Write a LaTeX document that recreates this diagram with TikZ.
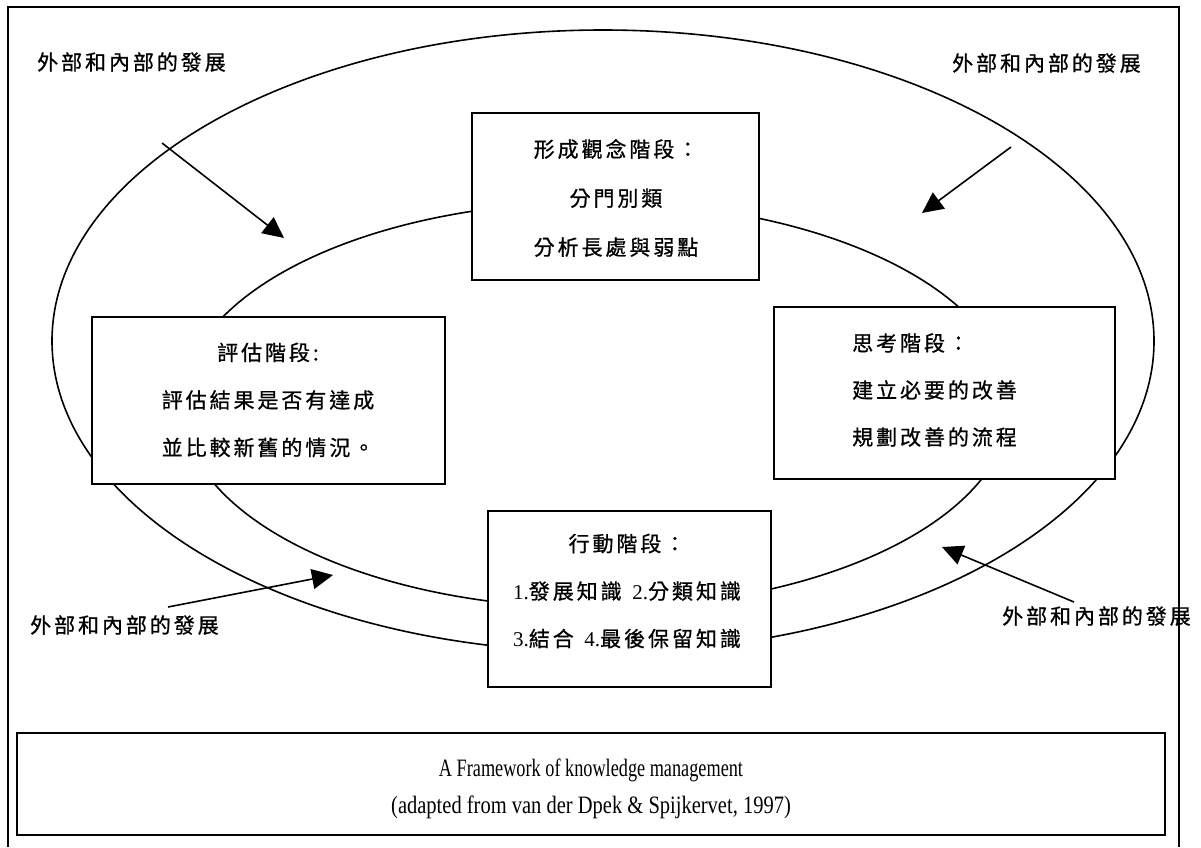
\documentclass[tikz,border=0pt]{standalone}
\usepackage{fontspec}
\usepackage{graphicx}
\setmainfont{Liberation Serif}
\newfontfamily\cjk[LetterSpace=14,FakeBold=0.8]{Noto Sans CJK TC}
\usetikzlibrary{arrows.meta}

\begin{document}
\begin{tikzpicture}[x=1pt,y=-1pt,
  frameline/.style={line width=1.8pt},
  ring/.style={line width=1.6pt},
  stagebox/.style={draw, fill=white, line width=1.9pt, inner sep=0pt, outer sep=0pt},
  stagetext/.style={inner sep=0pt, align=center, font=\cjk\fontsize{21}{47.5}\selectfont},
  flowlabel/.style={inner sep=0pt, anchor=west, font=\cjk\fontsize{21}{24}\selectfont},
  inflow/.style={line width=1.6pt, -{Triangle[length=21pt,width=20pt]}},
]
\useasboundingbox (0,0) rectangle (1201,847);

% outer frame, open at the bottom
\draw[frameline] (8,847) -- (8,7) -- (1179,7) -- (1179,847);

% the two development rings
\draw[ring] (603,341) ellipse [x radius=551pt, y radius=311pt];
\draw[ring] (596,405) ellipse [x radius=414pt, y radius=203pt];

% stage boxes
\node[stagebox, minimum width=287pt, minimum height=167pt] (concept) at (615.5,196.5) {};
\node[stagebox, minimum width=353pt, minimum height=167pt] (evaluate) at (268.5,400.5) {};
\node[stagebox, minimum width=341pt, minimum height=172pt] (think) at (944.5,393) {};
\node[stagebox, minimum width=283pt, minimum height=176pt] (act) at (629.5,599) {};

% stage texts
\node[stagetext, font=\cjk\fontsize{21}{49}\selectfont] (conceptText) at (616,198)
  {形成觀念階段：\\分門別類\\分析長處與弱點};
\node[stagetext] (evaluateText) at (268,400)
  {評估階段:\\評估結果是否有達成\\並比較新舊的情況。};
\node[stagetext, align=left, anchor=west, font=\cjk\fontsize{21}{47}\selectfont] (thinkText) at (852,390)
  {思考階段：\\建立必要的改善\\規劃改善的流程};
\node[stagetext] (actText) at (627,591)
  {行動階段：\\{\rmfamily 1.}發展知識\hspace{3pt} {\rmfamily 2.}分類知識\\{\rmfamily 3.}結合\hspace{3pt} {\rmfamily 4.}最後保留知識};

% external and internal development labels
\node[flowlabel] (devTL) at (37,62) {外部和內部的發展};
\node[flowlabel] (devTR) at (952,63) {外部和內部的發展};
\node[flowlabel] (devBL) at (30,625) {外部和內部的發展};
\node[flowlabel] (devBR) at (1002,616) {外部和內部的發展};

% arrows pointing into the rings
\coordinate (inTLs) at (162,143); \coordinate (inTLe) at (284,238);
\coordinate (inTRs) at (1011,147); \coordinate (inTRe) at (922,213);
\coordinate (inBLs) at (168,607); \coordinate (inBLe) at (333,575);
\coordinate (inBRs) at (1074,602); \coordinate (inBRe) at (942,547);
\draw[inflow] (inTLs) -- (inTLe);
\draw[inflow] (inTRs) -- (inTRe);
\draw[inflow] (inBLs) -- (inBLe);
\draw[inflow] (inBRs) -- (inBRe);

% caption
\node[stagebox, minimum width=1148pt, minimum height=102pt] (captionBox) at (591,784) {};
\node[inner sep=0pt, align=center, font=\fontsize{25}{37}\selectfont] (caption) at (591,789)
  {\scalebox{0.73}[1]{A Framework of knowledge management}\\
   \scalebox{0.82}[1]{(adapted from van der Dpek \& Spijkervet, 1997)}};
\end{tikzpicture}
\end{document}
